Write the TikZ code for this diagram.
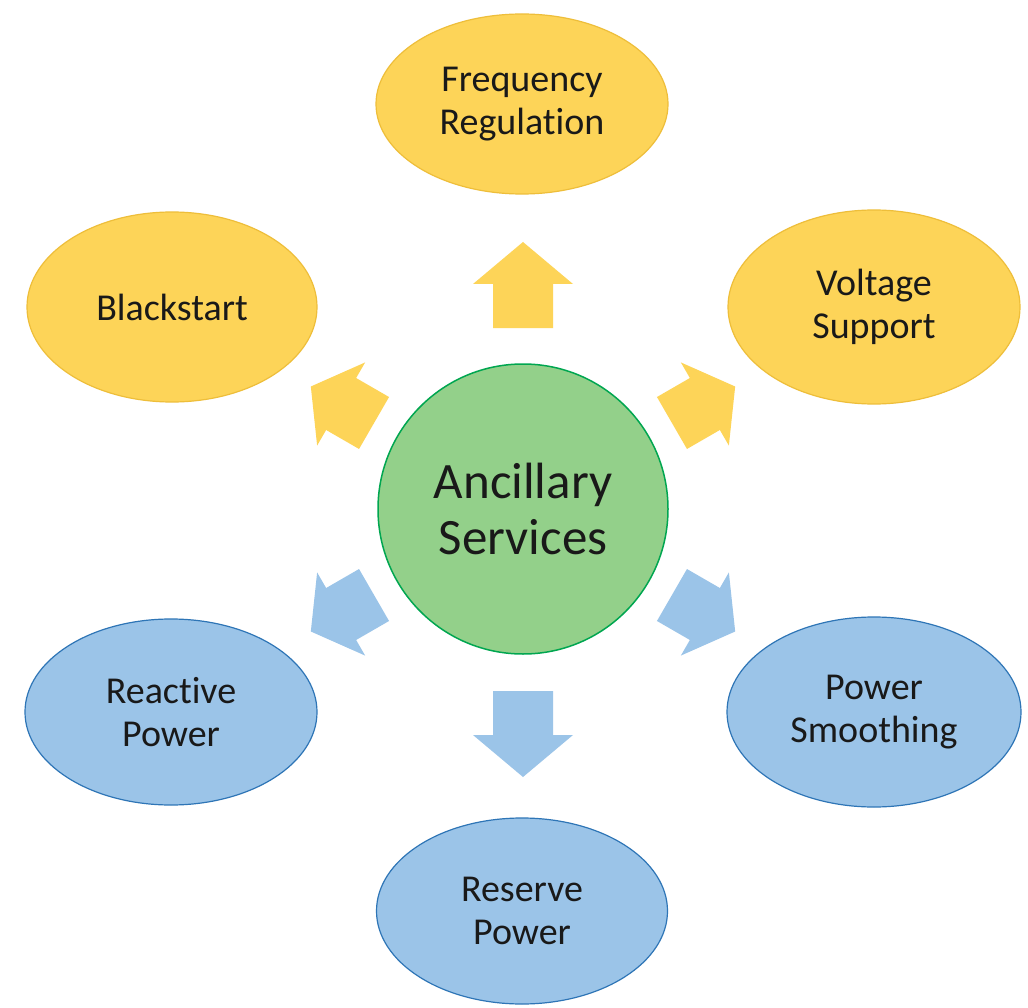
\documentclass[tikz,border=0pt]{standalone}
\usepackage{fontspec}
\setmainfont{Carlito}[Ligatures=NoCommon]
\usetikzlibrary{shapes.geometric,calc}

\definecolor{gold}{RGB}{253,212,88}
\definecolor{golddark}{RGB}{238,190,58}
\definecolor{skyfill}{RGB}{155,196,232}
\definecolor{skyline}{RGB}{46,117,182}
\definecolor{leaf}{RGB}{147,208,138}
\definecolor{leafline}{RGB}{0,166,80}
\definecolor{ink}{RGB}{25,25,25}

% Block arrow radiating from the hub:
% #1 fill style, #2 direction, #3 tail radius, #4 head-base radius,
% #5 tip radius, #6 half width of the head (shaft half width is 30)
\newcommand\blockarrow[6]{%
  \fill[#1]
    ($(hub.center)+(#2:#3)+({#2+90}:30)$) --
    ($(hub.center)+(#2:#4)+({#2+90}:30)$) --
    ($(hub.center)+(#2:#4)+({#2+90}:#6)$) --
    ($(hub.center)+(#2:#5)$) --
    ($(hub.center)+(#2:#4)+({#2-90}:#6)$) --
    ($(hub.center)+(#2:#4)+({#2-90}:30)$) --
    ($(hub.center)+(#2:#3)+({#2-90}:30)$) -- cycle;}

\begin{document}
\begin{tikzpicture}[x=1pt,y=-1pt,
  service/.style={ellipse, inner sep=0pt, align=center, text=ink,
    font=\fontsize{38}{43}\selectfont, line width=1.2pt},
  warm/.style={service, fill=gold, draw=golddark},
  cool/.style={service, fill=skyfill, draw=skyline},
  hubstyle/.style={circle, minimum size=290pt, inner sep=0pt, align=center,
    fill=leaf, draw=leafline, line width=1.5pt, text=ink,
    font=\fontsize{51}{56}\selectfont},
  warmarrow/.style={fill=gold},
  coolarrow/.style={fill=skyfill}]

\useasboundingbox (0,0) rectangle (1028,1008);
\fill[white] (0,0) rectangle (1028,1008);

% central hub
\node[hubstyle] (hub) at (523,509) {Ancillary\\Services};

% services
\node[warm, minimum width=292pt, minimum height=180pt] (freq) at (522,104) {Frequency\\Regulation};
\node[warm, minimum width=290pt, minimum height=190pt] (black) at (172,307) {Blackstart};
\node[warm, minimum width=292pt, minimum height=194pt] (volt) at (874,307) {Voltage\\Support};
\node[cool, minimum width=292pt, minimum height=186pt] (react) at (171,712) {Reactive\\Power};
\node[cool, minimum width=294pt, minimum height=190pt] (smooth) at (874,712) {Power\\Smoothing};
\node[cool, minimum width=291pt, minimum height=186pt] (reserve) at (522,911) {Reserve\\Power};

% arrows from the hub
\blockarrow{warmarrow}{-90}{181}{225}{267}{50}
\blockarrow{warmarrow}{-150}{172}{210}{245}{48}
\blockarrow{warmarrow}{-30}{172}{210}{245}{48}
\blockarrow{coolarrow}{150}{172}{210}{245}{48}
\blockarrow{coolarrow}{30}{172}{210}{245}{48}
\blockarrow{coolarrow}{90}{182}{226}{268}{50}
\end{tikzpicture}
\end{document}
